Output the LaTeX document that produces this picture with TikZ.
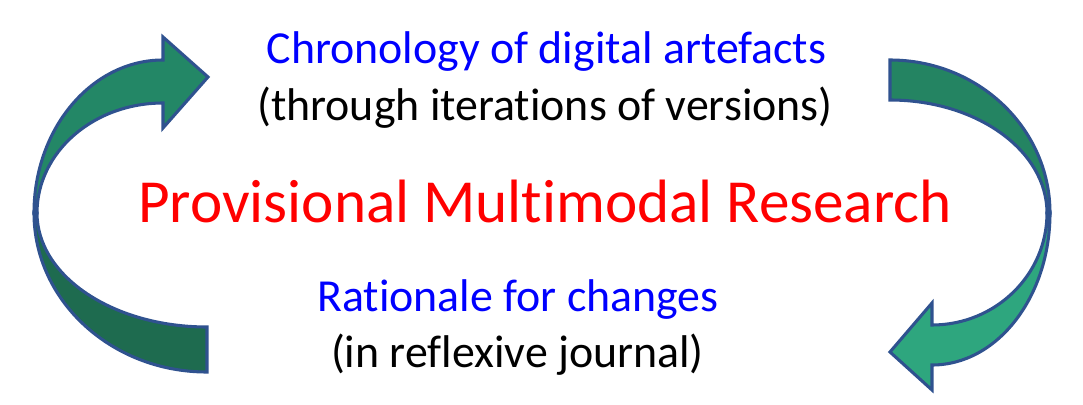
\documentclass[tikz,border=0pt]{standalone}
\usepackage{fontspec}
\setmainfont{Carlito}[RawFeature={-liga;-clig}]
\definecolor{edgeblue}{HTML}{2F528F}
\definecolor{gA}{RGB}{35,135,102}
\definecolor{gB}{RGB}{30,107,79}
\definecolor{gC}{RGB}{36,132,98}
\definecolor{gD}{RGB}{46,166,126}
\definecolor{tblue}{HTML}{0000FF}
\definecolor{tred}{HTML}{FF0000}
\begin{document}
\begin{tikzpicture}[x=0.75pt,y=-0.75pt,
  band/.style={draw=edgeblue,line width=2.3pt,line join=miter},
  small/.style={font=\fontsize{34.4}{40}\selectfont,anchor=base,inner sep=0pt},
  big/.style={font=\fontsize{45.9}{54}\selectfont,anchor=base,inner sep=0pt,text=tred}]
\useasboundingbox (0,0) rectangle (1083,404);
% left arrow: lower (back) band
\path[band,fill=gB] (207,372) .. controls (111.5,372) and (34,300.8) .. (34,213)
  -- (37,213) .. controls (37,276) and (113.1,327) .. (207,327) -- cycle;
% left arrow: upper band with head
\path[band,fill=gA] (34,213) .. controls (34,128.5) and (91.8,60) .. (163,60)
  -- (163,37) -- (208,77) -- (163,128) -- (163,103)
  .. controls (93.4,103) and (37,152.2) .. (37,213) -- cycle;
% right arrow: upper (back) band
\path[band,fill=gC] (890,60) .. controls (978.4,60) and (1050,128.5) .. (1050,213)
  -- (1047,213) .. controls (1047,150.6) and (976.7,100) .. (890,100) -- cycle;
% right arrow: lower band with head
\path[band,fill=gD] (1050,213) .. controls (1050,297) and (997.2,365) .. (932,365)
  -- (932,390) -- (890,352) -- (932,303) -- (932,325)
  .. controls (995.5,325) and (1047,274.9) .. (1047,213) -- cycle;
% texts
\node[small,text=tblue] (t1) at (546.5,63) {Chronology of digital artefacts};
\node[small] (t2) at (545,120) {(through iterations of versions)};
\node[big] (t3) at (545,222) {Provisional Multimodal Research};
\node[small,text=tblue] (t4) at (518,311) {Rationale for changes};
\node[small] (t5) at (517.5,367) {(in reflexive journal)};
\end{tikzpicture}
\end{document}
